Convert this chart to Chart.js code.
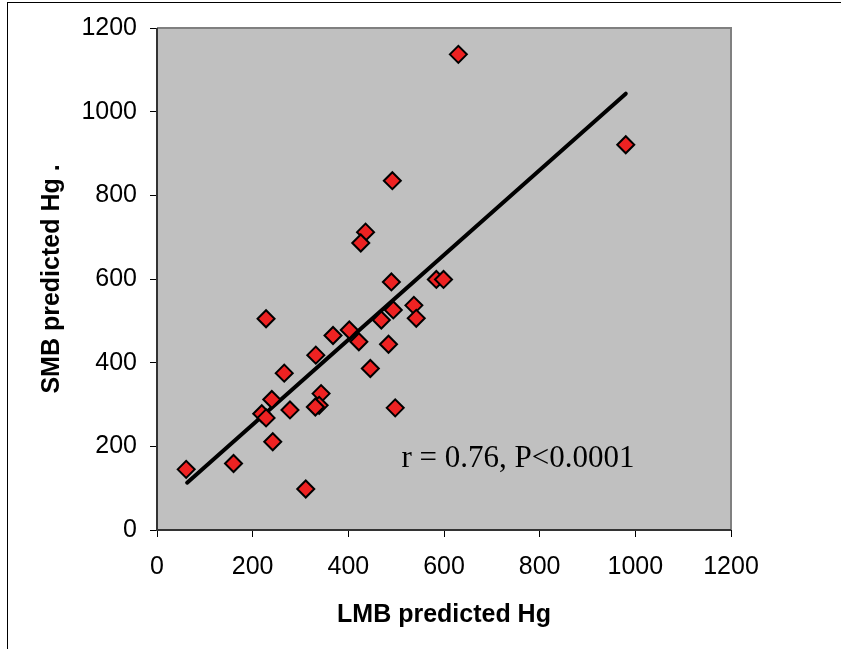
<!DOCTYPE html>
<html><head><meta charset="utf-8">
<script src="https://cdn.jsdelivr.net/npm/chart.js@4"></script>
<style>
html,body{margin:0;padding:0;background:#fff;overflow:hidden;}
#wrap{position:relative;width:841px;height:649px;overflow:hidden;}
#frame{position:absolute;left:7px;top:2px;width:900px;height:700px;border-left:1px solid #000;border-top:1px solid #000;}
canvas{position:absolute;left:0;top:0;}
</style></head><body>
<div id="wrap"><div id="frame"></div><canvas id="c" width="841" height="649"></canvas></div>
<script>
// LMB predicted Hg (x) vs SMB predicted Hg (y)
const lmbHg = [492,436,426,630,980,490,584,599,537,542,494,469,228,368,402,422,484,332,446,266,343,339,331,240,278,498,219,228,242,160,61,311];
const smbHg = [835,712,686,1137,921,593,599,599,537,506,526,502,505,465,478,450,444,418,386,375,326,298,294,312,287,292,278,268,211,159,145,98];
// regression line end points
const fitX = [63, 980];
const fitY = [113, 1043];
const xTicks = [0,200,400,600,800,1000,1200];
const yTicks = [0,200,400,600,800,1000,1200];
const xTitle = 'LMB predicted Hg';
const yTitle = 'SMB predicted Hg .';
const note = 'r = 0.76, P<0.0001';

const PAD_L = 10, PAD_B = 10;
const AREA = {left:157, right:731, top:26, bottom:530};

const framePlugin = {
  id:'framePlugin',
  beforeDatasetsDraw(chart){
    const {ctx, chartArea:a} = chart;
    ctx.save();
    ctx.fillStyle = '#C0C0C0';
    ctx.fillRect(a.left, a.top, a.right-a.left, a.bottom-a.top);
    ctx.strokeStyle = '#808080';
    ctx.lineWidth = 2;
    ctx.beginPath();
    ctx.moveTo(a.left, a.top); ctx.lineTo(a.right, a.top); ctx.lineTo(a.right, a.bottom);
    ctx.stroke();
    ctx.strokeStyle = '#333';
    ctx.beginPath();
    ctx.moveTo(a.left, a.top); ctx.lineTo(a.left, a.bottom); ctx.lineTo(a.right, a.bottom);
    ctx.stroke();
    ctx.restore();
  },
  afterDraw(chart){
    const {ctx, chartArea:a, scales} = chart;
    ctx.save();
    ctx.fillStyle = '#000';
    ctx.font = 'bold 25px "Liberation Sans", Arial, sans-serif';
    ctx.textAlign = 'center';
    ctx.textBaseline = 'alphabetic';
    ctx.fillText(xTitle, (a.left+a.right)/2, 622);
    ctx.save();
    ctx.translate(59, (a.top+a.bottom)/2);
    ctx.rotate(-Math.PI/2);
    ctx.fillText(yTitle, 0, 0);
    ctx.restore();
    ctx.font = '31px "Liberation Serif", "Times New Roman", serif';
    ctx.textAlign = 'left';
    ctx.fillText(note, scales.x.getPixelForValue(511), scales.y.getPixelForValue(151));
    ctx.restore();
  }
};

new Chart(document.getElementById('c'), {
  type:'scatter',
  data:{
    datasets:[
      {
        type:'line',
        data: fitX.map((x,i)=>({x, y:fitY[i]})),
        borderColor:'#000', borderWidth:4, pointRadius:0, fill:false, borderCapStyle:'round', order:2
      },
      {
        data: lmbHg.map((x,i)=>({x, y:smbHg[i]})),
        pointStyle:'rectRot', pointRadius:8.5, pointHoverRadius:8.5,
        backgroundColor:'#EE2222', borderColor:'#000', borderWidth:2, order:1
      }
    ]
  },
  options:{
    responsive:false, animation:false, events:[],
    layout:{padding:{left:PAD_L, right:841-AREA.right, top:AREA.top, bottom:PAD_B}},
    plugins:{legend:{display:false}, tooltip:{enabled:false}},
    scales:{
      x:{
        type:'linear', min:0, max:1200,
        afterFit(s){ s.height = 649 - AREA.bottom - PAD_B; },
        afterBuildTicks(s){ s.ticks = xTicks.map(v=>({value:v})); },
        grid:{display:true, drawOnChartArea:false, drawTicks:true, tickLength:7, color:'#000', lineWidth:1},
        border:{display:false},
        ticks:{color:'#000', font:{family:'"Liberation Sans", Arial, sans-serif', size:25}, padding:15, maxRotation:0,
               callback:(v)=>String(v)}
      },
      y:{
        type:'linear', min:0, max:1200,
        afterFit(s){ s.width = AREA.left - PAD_L; },
        afterBuildTicks(s){ s.ticks = yTicks.map(v=>({value:v})); },
        grid:{display:true, drawOnChartArea:false, drawTicks:true, tickLength:7, color:'#000', lineWidth:1},
        border:{display:false},
        ticks:{color:'#000', font:{family:'"Liberation Sans", Arial, sans-serif', size:25}, padding:13,
               callback:(v)=>String(v)}
      }
    }
  },
  plugins:[framePlugin]
});
</script>
</body></html>
